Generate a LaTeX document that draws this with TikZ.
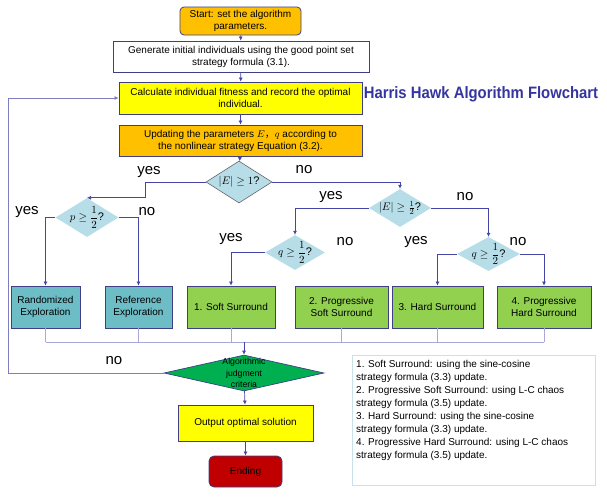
\documentclass[tikz,border=0pt]{standalone}
\usepackage{fontspec}
\setmainfont{Liberation Sans}
\newfontfamily\cjkfont{Noto Sans CJK SC}
\usepackage{amsmath}
\usepackage{xcolor}
\usetikzlibrary{shapes.geometric,arrows.meta}
\definecolor{hhline}{HTML}{4545A5}
\definecolor{hhsoft}{HTML}{A8A8DA}
\definecolor{hhborder}{HTML}{3F3F86}
\definecolor{hhorange}{HTML}{FFC000}
\definecolor{hhyellow}{HTML}{FFFF00}
\definecolor{hhteal}{HTML}{6DBDC6}
\definecolor{hhgreen}{HTML}{92D050}
\definecolor{hhdark}{HTML}{00B050}
\definecolor{hhred}{HTML}{C00000}
\definecolor{hhdia}{HTML}{B7DEE8}
\definecolor{hhtitle}{HTML}{3535A0}
\definecolor{hhlegend}{HTML}{C9E1E8}

\begin{document}
\begin{tikzpicture}[x=1pt,y=-1pt,
		box/.style={draw=hhborder, line width=0.8pt, inner sep=0pt, align=center, font=\fontsize{10}{12}\selectfont},
		dia/.style={diamond, inner sep=0pt, fill=hhdia},
		dialabel/.style={font=\fontsize{11}{13}\selectfont, inner sep=0pt},
		link/.style={draw=hhline, line width=0.7pt, -{Latex[length=4pt,width=4pt]}},
		joinline/.style={draw=hhsoft, line width=0.9pt},
		lbl/.style={font=\fontsize{15}{15}\selectfont, inner sep=0pt}]
		\useasboundingbox (0,0) rectangle (607,496);
		
		\node (start) at (240.5,21) [box, fill=hhorange, rounded corners=4pt, minimum width=121, minimum height=28] {Start: set the algorithm\\parameters.};
		\node (gen) at (241,56.5) [box, fill=white, minimum width=256, minimum height=31] {Generate initial individuals using the good point set\\strategy formula (3.1).};
		\node (calc) at (240.5,98) [box, fill=hhyellow, minimum width=243, minimum height=32] {Calculate individual fitness and record the optimal\\individual.};
		\node (upd) at (240.5,140.5) [box, fill=hhorange, minimum width=243, minimum height=31] {Updating the parameters $E${\cjkfont ，}$q$ according to\\the nonlinear strategy Equation (3.2).};
		\node (title) at (481,94) [text=hhtitle, font=\fontsize{16.5}{16.5}\selectfont\bfseries] {\scalebox{0.9}[1]{Harris Hawk Algorithm Flowchart}};
		
		% decisions
		\node (d1) at (239,182) [dia, draw=gray!80!black, line width=0.6pt, minimum width=66, minimum height=42, label={[dialabel]center:$|E|\geq 1$?}] {};
		\node (dp) at (87,217.5) [dia, minimum width=63, minimum height=39, label={[dialabel]center:$p\geq\dfrac{1}{2}$?}] {};
		\node (d2) at (400,208) [dia, minimum width=62, minimum height=38, label={[dialabel]center:$|E|\geq\frac{1}{2}$?}] {};
		\node (dq1) at (295,252.5) [dia, minimum width=60, minimum height=35, label={[dialabel]center:$q\geq\dfrac{1}{2}$?}] {};
		\node (dq2) at (488.5,254) [dia, minimum width=63, minimum height=34, label={[dialabel]center:$q\geq\dfrac{1}{2}$?}] {};
		
		\node (yes1) at (149,172) [lbl] {yes};
		\node (no1) at (304,170) [lbl] {no};
		\node (yes2) at (27,212) [lbl] {yes};
		\node (no2) at (147,212) [lbl] {no};
		\node (yes3) at (331,197) [lbl] {yes};
		\node (no3) at (465,197) [lbl] {no};
		\node (yes4) at (231,239) [lbl] {yes};
		\node (no4) at (345,242) [lbl] {no};
		\node (yes5) at (416,242) [lbl] {yes};
		\node (no5) at (518,242) [lbl] {no};
		\node (no6) at (114,361) [lbl] {no};
		
		% update rules
		\node (rand) at (45.5,307) [box, fill=hhteal, minimum width=69, minimum height=42] {Randomized\\Exploration};
		\node (ref) at (138.5,307) [box, fill=hhteal, minimum width=67, minimum height=42] {Reference\\Exploration};
		\node (soft) at (231,307) [box, fill=hhgreen, minimum width=88, minimum height=42] {1. Soft Surround};
		\node (psoft) at (341.5,307) [box, fill=hhgreen, minimum width=93, minimum height=42] {2. Progressive\\Soft Surround};
		\node (hard) at (437.5,307) [box, fill=hhgreen, minimum width=91, minimum height=42] {3. Hard Surround};
		\node (phard) at (544,307) [box, fill=hhgreen, minimum width=94, minimum height=42] {4. Progressive\\Hard Surround};
		
		\node (judge) at (244,373) [diamond, draw=hhborder, line width=0.7pt, fill=hhdark, inner sep=0pt, minimum width=160, minimum height=36, label={[align=center, font=\fontsize{8.7}{11.5}\selectfont]center:Algorithmic\\judgment\\criteria}] {};
		\node (out) at (245.5,423) [box, fill=hhyellow, minimum width=135, minimum height=36] {Output optimal solution};
		\node (ending) at (245.5,471.5) [box, fill=hhred, rounded corners=5pt, minimum width=73, minimum height=31] {Ending};
		
		\node (legend) at (352,355) [anchor=north west, draw=hhlegend, line width=0.8pt, minimum width=243, minimum height=130] {};
		\node (legendtext) at (356,360) [anchor=north west, align=left, inner sep=0pt, font=\fontsize{10}{13}\selectfont] {1. Soft Surround: using the sine-cosine\\strategy formula (3.3) update.\\2. Progressive Soft Surround: using L-C chaos\\strategy formula (3.5) update.\\3. Hard Surround: using the sine-cosine\\strategy formula (3.3) update.\\4. Progressive Hard Surround: using L-C chaos\\strategy formula (3.5) update.};
		
		\draw[link] (start) -- (gen);
		\draw[link] (gen) -- (calc);
		\draw[link] (calc) -- (upd);
		\draw[link] (upd) -- (d1);
		\draw[link] (d1.west) -- ++(-60,0) |- (dp.north);
		\draw[link] (dp.west) -| (rand.north);
		\draw[link] (dp.east) -| (ref.north);
		\draw[link] (d1.east) -| (d2.north);
		\draw[link] (d2.west) -| (dq1.north);
		\draw[link] (d2.east) -| (dq2.north);
		\draw[link] (dq1.west) -| (soft.north);
		\draw[link] (dq2.west) -| (hard.north);
		\draw[link] (dq2.east) -| (phard.north);
		
		\coordinate (merge) at (244,342);
		\foreach \b in {rand,ref,soft,psoft,hard,phard}
			\draw[joinline] (\b.south) -- (\b.south |- merge);
		\draw[joinline] (rand.south |- merge) -- (phard.south |- merge);
		\draw[link] (merge) -- (judge.north);
		\draw[link, draw=hhline!70] (judge.west) -- ++(-155,0) |- (calc.west);
		\draw[link] (judge) -- (out);
		\draw[link] (out) -- (ending);
	\end{tikzpicture}
\end{document}
